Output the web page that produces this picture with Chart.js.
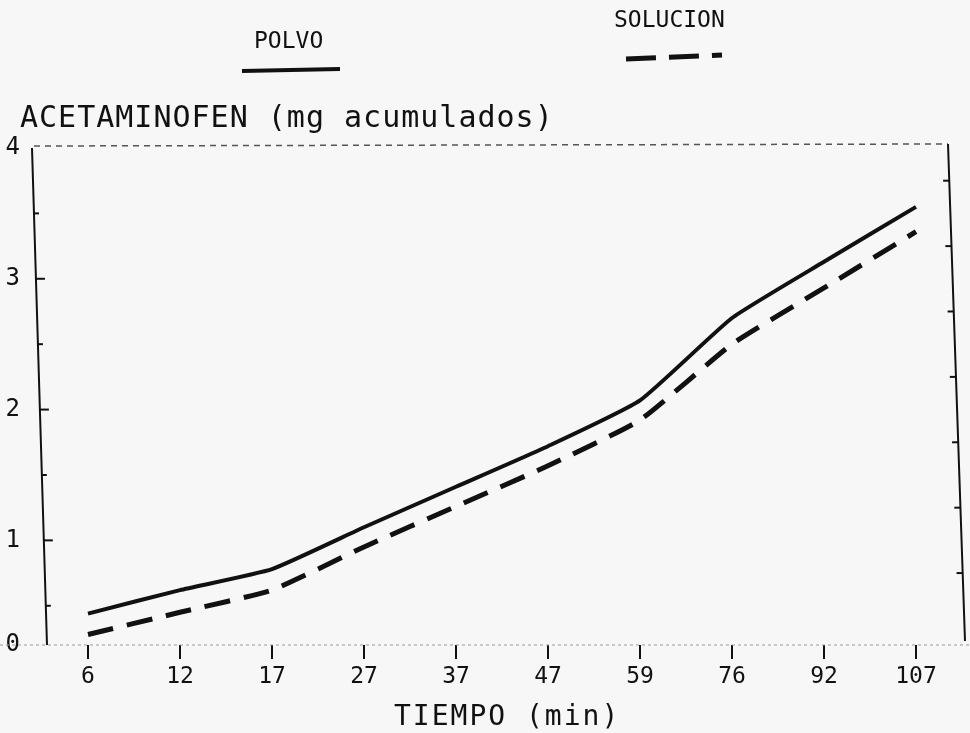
<!DOCTYPE html>
<html>
<head>
<meta charset="utf-8">
<script src="https://cdn.jsdelivr.net/npm/chart.js@4/dist/chart.umd.min.js"></script>
<style>
  html, body { margin: 0; padding: 0; background: #f7f7f7; }
  #wrap { width: 970px; height: 733px; }
</style>
</head>
<body>
<div id="wrap"><canvas id="chart" width="970" height="733"></canvas></div>
<script>
// data
const tiempos = ["6", "12", "17", "27", "37", "47", "59", "76", "92", "107"];
const polvo = [0.44, 0.62, 0.78, 1.10, 1.41, 1.72, 2.07, 2.70, 3.13, 3.55];
const solucion = [0.28, 0.45, 0.62, 0.95, 1.26, 1.57, 1.92, 2.50, 2.93, 3.36];
const seriesNames = ["POLVO", "SOLUCION"];
const yTickValues = [0.2, 1, 2, 3, 4];
const yTickLabels = ["0", "1", "2", "3", "4"];
const yHalfTicks = [0.5, 1.5, 2.5, 3.5];

const FONT = "'DejaVu Sans Mono', monospace";
const INK = "#111";

// axes box, inner ticks, titles and legend
const framePlugin = {
    id: "frame",
    beforeDraw(chart) {
        const ctx = chart.ctx;
        ctx.save();
        ctx.fillStyle = "#f7f7f7";
        ctx.fillRect(0, 0, chart.width, chart.height);
        ctx.restore();
    },
    afterDraw(chart) {
        const { ctx, chartArea: a, scales: { y } } = chart;
        ctx.save();

        // top border (dotted, faint)
        ctx.strokeStyle = "#555";
        ctx.lineWidth = 1.5;
        ctx.setLineDash([6, 5]);
        ctx.beginPath();
        ctx.moveTo(a.left - 8, a.top - 2);
        ctx.lineTo(a.right - 14, a.top - 4);
        ctx.stroke();

        // bottom border (dotted, lighter)
        ctx.strokeStyle = "#999";
        ctx.lineWidth = 1;
        ctx.setLineDash([3, 3]);
        ctx.beginPath();
        ctx.moveTo(0, a.bottom);
        ctx.lineTo(chart.width, a.bottom);
        ctx.stroke();
        ctx.setLineDash([]);

        // left and right axes
        ctx.strokeStyle = INK;
        ctx.lineWidth = 2;
        ctx.beginPath();
        ctx.moveTo(a.left - 10, a.top);
        ctx.lineTo(a.left + 5, a.bottom);
        ctx.moveTo(a.right - 14, a.top - 4);
        ctx.lineTo(a.right + 3, a.bottom - 4);
        ctx.stroke();

        // inward ticks on the left axis
        const slant = (py) => a.left - 10 + 15 * (py - a.top) / (a.bottom - a.top);
        const slantR = (py) => a.right - 14 + 17 * (py - a.top) / (a.bottom - a.top);
        ctx.lineWidth = 2;
        [1, 2, 3].forEach(v => {
            const py = y.getPixelForValue(v);
            const px = slant(py);
            ctx.beginPath();
            ctx.moveTo(px, py);
            ctx.lineTo(px + 9, py);
            ctx.stroke();
        });
        yHalfTicks.forEach(v => {
            const py = y.getPixelForValue(v);
            const px = slant(py);
            ctx.beginPath();
            ctx.moveTo(px, py);
            ctx.lineTo(px + 5, py);
            ctx.stroke();
        });
        // ticks on the right axis
        [3.75, 3.25, 2.75, 2.25, 1.75, 1.25, 0.75].forEach(v => {
            const py = y.getPixelForValue(v);
            const px = slantR(py);
            ctx.beginPath();
            ctx.moveTo(px - 6, py);
            ctx.lineTo(px, py);
            ctx.stroke();
        });

        // axis titles
        ctx.fillStyle = INK;
        ctx.textBaseline = "alphabetic";
        ctx.textAlign = "left";
        ctx.font = "30px " + FONT;
        ctx.letterSpacing = "1px";
        ctx.fillText("ACETAMINOFEN (mg acumulados)", 20, 127);
        ctx.font = "28px " + FONT;
        ctx.letterSpacing = "2px";
        ctx.fillText("TIEMPO (min)", 394, 725);

        // legend
        ctx.font = "23px " + FONT;
        ctx.letterSpacing = "0px";
        ctx.fillText(seriesNames[0], 254, 48);
        ctx.fillText(seriesNames[1], 614, 27);

        ctx.lineWidth = 4;
        ctx.beginPath();
        ctx.moveTo(242, 71);
        ctx.lineTo(340, 69);
        ctx.stroke();

        ctx.lineWidth = 5;
        ctx.setLineDash([30, 13]);
        ctx.beginPath();
        ctx.moveTo(626, 59);
        ctx.lineTo(722, 55);
        ctx.stroke();

        ctx.restore();
    }
};

const chart = new Chart(document.getElementById("chart"), {
    type: "line",
    data: {
        labels: tiempos,
        datasets: [
            {
                label: seriesNames[0],
                data: polvo,
                borderColor: INK,
                borderWidth: 4,
                pointRadius: 0,
                tension: 0.15,
                fill: false
            },
            {
                label: seriesNames[1],
                data: solucion,
                borderColor: INK,
                borderWidth: 5,
                borderDash: [26, 14],
                pointRadius: 0,
                tension: 0.15,
                fill: false
            }
        ]
    },
    options: {
        responsive: false,
        animation: false,
        layout: { padding: { left: 0, top: 148, right: 8, bottom: 0 } },
        plugins: {
            legend: { display: false },
            tooltip: { enabled: false }
        },
        scales: {
            x: {
                offset: true,
                border: { display: false },
                grid: {
                    drawOnChartArea: false,
                    color: INK,
                    lineWidth: 2,
                    tickLength: 14
                },
                ticks: {
                    color: INK,
                    font: { family: FONT, size: 23 },
                    padding: 4,
                    maxRotation: 0
                },
                afterFit(scale) { scale.height = 88; }
            },
            y: {
                min: yTickValues[0],
                max: 4,
                border: { display: false },
                grid: { display: false },
                afterBuildTicks(scale) {
                    scale.ticks = yTickValues.map(v => ({ value: v }));
                },
                ticks: {
                    color: INK,
                    font: { family: FONT, size: 24 },
                    padding: 14,
                    callback: (value, index) => yTickLabels[index]
                },
                afterFit(scale) { scale.width = 42; }
            }
        }
    },
    plugins: [framePlugin]
});
</script>
</body>
</html>
